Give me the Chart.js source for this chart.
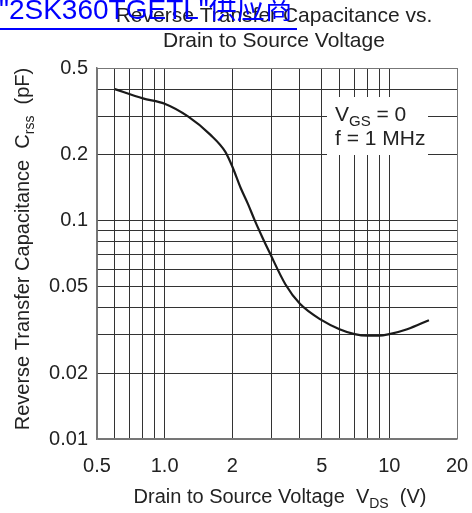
<!DOCTYPE html>
<html>
<head>
<meta charset="utf-8">
<script src="https://cdn.jsdelivr.net/npm/chart.js@4"></script>
<style>
  html, body { margin: 0; padding: 0; background: #fff; }
  #wrap { width: 472px; height: 513px; position: relative; }
</style>
</head>
<body>
<div id="wrap"><canvas id="crssChart"></canvas></div>
<script>
// Crss vs VDS
const vds  = [0.6, 0.8, 1.0, 1.27, 1.6, 1.86, 2.0, 2.18, 2.35, 2.52, 2.72, 2.92, 3.45, 4, 5, 6, 7, 8, 9, 10, 12, 15];
const crss = [0.4, 0.363, 0.343, 0.3, 0.247, 0.207, 0.177, 0.141, 0.119, 0.1, 0.084, 0.072, 0.051, 0.0416, 0.035, 0.0318, 0.0302, 0.0297, 0.0297, 0.0302, 0.0318, 0.035];

// grid lines and labelled ticks
const xGrid = [0.5, 0.6, 0.7, 0.8, 0.9, 1, 2, 3, 4, 5, 6, 7, 8, 9, 10, 20];
const xLabelVals = [0.5, 1, 2, 5, 10, 20];
const xLabelText = ['0.5', '1.0', '2', '5', '10', '20'];
const yGrid = [0.01, 0.02, 0.03, 0.04, 0.05, 0.06, 0.07, 0.08, 0.09, 0.1, 0.2, 0.3, 0.4, 0.5];
const yLabelVals = [0.01, 0.02, 0.05, 0.1, 0.2, 0.5];
const yLabelText = ['0.01', '0.02', '0.05', '0.1', '0.2', '0.5'];

const FONT = '"Liberation Sans", Arial, sans-serif';
const INK = '#222';

function labelFor(vals, texts, v) {
  const i = vals.findIndex(x => Math.abs(x - v) < 1e-9);
  return i >= 0 ? texts[i] : '';
}

// text with subscripts: parts = [[text, isSub], ...]
function drawRich(ctx, parts, x, y, size) {
  const subSize = Math.round(size * 0.72);
  let total = 0;
  parts.forEach(([t, sub]) => {
    ctx.font = (sub ? subSize : size) + 'px ' + FONT;
    total += ctx.measureText(t).width;
  });
  let cx = x - total / 2;
  ctx.textAlign = 'left';
  ctx.textBaseline = 'alphabetic';
  parts.forEach(([t, sub]) => {
    ctx.font = (sub ? subSize : size) + 'px ' + FONT;
    ctx.fillText(t, cx, sub ? y + 5 : y);
    cx += ctx.measureText(t).width;
  });
}

const extras = {
  id: 'extras',
  afterDraw(chart) {
    const ctx = chart.ctx;
    ctx.save();

    // annotation box
    ctx.fillStyle = '#fff';
    ctx.fillRect(327, 97, 101, 58);
    ctx.fillStyle = INK;
    ctx.font = '21px ' + FONT;
    ctx.textAlign = 'left';
    ctx.textBaseline = 'alphabetic';
    ctx.fillText('V', 335, 121);
    let w = ctx.measureText('V').width;
    ctx.font = '15px ' + FONT;
    ctx.fillText('GS', 335 + w, 126);
    w += ctx.measureText('GS').width;
    ctx.font = '21px ' + FONT;
    ctx.fillText(' = 0', 335 + w, 121);
    ctx.fillText('f = 1 MHz', 335, 145);

    // chart title
    ctx.fillStyle = INK;
    ctx.font = '21px ' + FONT;
    ctx.textAlign = 'center';
    ctx.fillText('Reverse Transfer Capacitance vs.', 274, 22);
    ctx.fillText('Drain to Source Voltage', 274, 47);

    // axis titles
    drawRich(ctx, [['Drain to Source Voltage  V', false], ['DS', true], ['  (V)', false]], 280, 503, 20);
    ctx.save();
    ctx.translate(29, 249);
    ctx.rotate(-Math.PI / 2);
    drawRich(ctx, [['Reverse Transfer Capacitance  C', false], ['rss', true], ['  (pF)', false]], 0, 0, 20);
    ctx.restore();

    // link-style watermark over the title
    ctx.fillStyle = '#0000ff';
    ctx.font = '28px ' + FONT + ', "Noto Sans CJK SC"';
    ctx.textAlign = 'left';
    ctx.fillText('"2SK360TGETL"供应商', -1, 19);
    ctx.fillRect(0, 28, 297, 2);

    ctx.restore();
  }
};

new Chart(document.getElementById('crssChart'), {
  type: 'line',
  data: {
    datasets: [{
      data: vds.map((v, i) => ({ x: v, y: crss[i] })),
      borderColor: '#1a1a1a',
      borderWidth: 2.2,
      pointRadius: 0,
      cubicInterpolationMode: 'monotone',
      fill: false
    }]
  },
  options: {
    responsive: true,
    maintainAspectRatio: false,
    animation: false,
    layout: { padding: { top: 68, right: 15, left: 0, bottom: 0 } },
    plugins: { legend: { display: false }, tooltip: { enabled: false } },
    scales: {
      x: {
        type: 'logarithmic',
        min: 0.5,
        max: 20,
        afterBuildTicks: s => { s.ticks = xGrid.map(v => ({ value: v })); },
        afterFit: s => { s.height = 74; s.paddingLeft = 0; s.paddingRight = 0; },
        grid: {
          drawTicks: false,
          color: c => (c.tick && (c.tick.value === 0.5 || c.tick.value === 20)) ? '#777' : '#333',
          lineWidth: 1
        },
        border: { display: true, color: '#777', width: 1.5 },
        ticks: {
          autoSkip: false,
          maxRotation: 0,
          padding: 15,
          color: INK,
          font: { family: FONT, size: 20 },
          callback: v => labelFor(xLabelVals, xLabelText, v)
        }
      },
      y: {
        type: 'logarithmic',
        min: 0.01,
        max: 0.5,
        afterBuildTicks: s => { s.ticks = yGrid.map(v => ({ value: v })); },
        afterFit: s => { s.width = 97; s.paddingTop = 0; s.paddingBottom = 0; },
        grid: {
          drawTicks: false,
          color: c => (c.tick && (c.tick.value === 0.01 || c.tick.value === 0.5)) ? '#777' : '#333',
          lineWidth: 1
        },
        border: { display: true, color: '#777', width: 1.5 },
        ticks: {
          autoSkip: false,
          padding: 9,
          color: INK,
          font: { family: FONT, size: 20 },
          callback: v => labelFor(yLabelVals, yLabelText, v)
        }
      }
    }
  },
  plugins: [extras]
});
</script>
</body>
</html>
